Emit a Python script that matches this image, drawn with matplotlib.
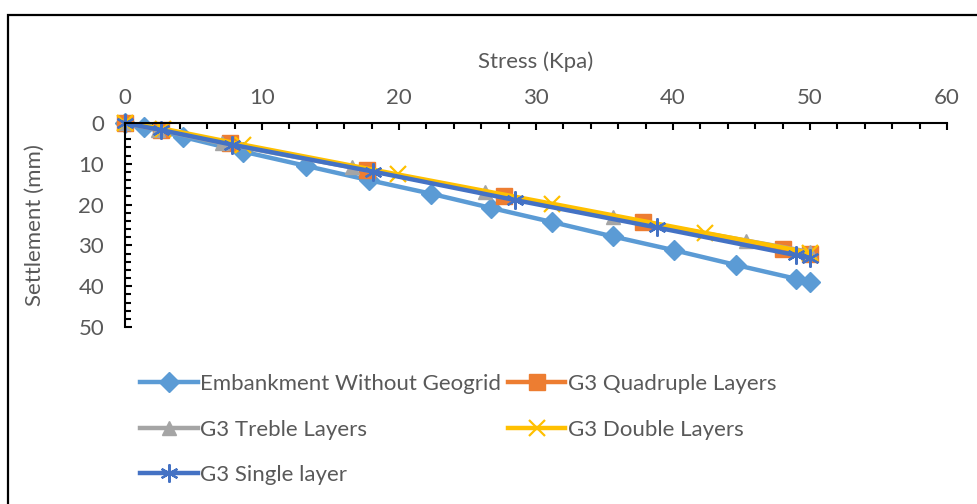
import matplotlib.pyplot as plt
from matplotlib.patches import Rectangle
from matplotlib.ticker import MultipleLocator

# stress (kPa) vs settlement (mm)
emb_x = [0, 1.4, 4.2, 8.6, 13.2, 17.8, 22.3, 26.7, 31.2, 35.6, 40.1, 44.6, 49.0, 50.0]
emb_y = [0, 1.0, 3.4, 7.0, 10.5, 14.0, 17.3, 20.8, 24.3, 27.8, 31.2, 34.8, 38.2, 39.0]
quad_x = [0, 2.6, 7.7, 17.7, 27.7, 37.8, 48.0, 50.0]
quad_y = [0, 1.7, 4.9, 11.5, 17.8, 24.3, 30.8, 32.0]
treb_x = [0, 2.4, 7.1, 16.6, 26.3, 35.6, 45.3, 50.0]
treb_y = [0, 1.6, 5.0, 10.9, 16.9, 23.0, 28.8, 31.6]
dbl_x = [0, 2.8, 8.6, 19.9, 31.2, 42.3, 50.0]
dbl_y = [0, 1.4, 5.3, 12.6, 19.8, 26.9, 31.8]
sgl_x = [0, 2.6, 7.8, 18.1, 28.5, 38.8, 49.0, 50.0]
sgl_y = [0, 1.7, 5.3, 11.9, 18.9, 25.6, 32.4, 33.0]

labels = ['Embankment Without Geogrid', 'G3 Quadruple Layers', 'G3 Treble Layers',
          'G3 Double Layers', 'G3 Single layer']

plt.rcParams['font.family'] = ['Lato', 'DejaVu Sans']
grey = '#595959'
fs = 16

fig = plt.figure(figsize=(9.77, 5.04), dpi=100)
ax = fig.add_axes([125 / 977, 1 - 327 / 504, 822 / 977, 204 / 504])

lw = 3.2
l1, = ax.plot(emb_x, emb_y, color='#5B9BD5', lw=lw, marker='D', ms=10, mec='#5B9BD5')
l2, = ax.plot(quad_x, quad_y, color='#ED7D31', lw=lw, marker='s', ms=11, mec='#ED7D31')
l3, = ax.plot(treb_x, treb_y, color='#A5A5A5', lw=lw, marker='^', ms=10, mec='#A5A5A5')
l4, = ax.plot(dbl_x, dbl_y, color='#FFC000', lw=lw, marker='x', ms=11, mew=1.6)
l5, = ax.plot(sgl_x, sgl_y, color='#4472C4', lw=lw, marker=(6, 2, 0), ms=13, mew=1.6)
for l, lab in zip([l1, l2, l3, l4, l5], labels):
    l.set_label(lab)
    l.set_clip_on(False)

ax.set_xlim(0, 60)
ax.set_ylim(50, 0)
ax.xaxis.set_major_locator(MultipleLocator(10))
ax.xaxis.set_minor_locator(MultipleLocator(2))
ax.yaxis.set_major_locator(MultipleLocator(10))
ax.yaxis.set_minor_locator(MultipleLocator(2))
ax.xaxis.tick_top()
ax.xaxis.set_label_position('top')
for s in ['right', 'bottom']:
    ax.spines[s].set_visible(False)
for s in ['top', 'left']:
    ax.spines[s].set_linewidth(1.5)
ax.tick_params(which='both', direction='in', colors='black', width=1.5,
               labelcolor=grey, labelsize=fs)
ax.tick_params(which='major', length=5)
ax.tick_params(which='minor', length=4)
ax.tick_params(axis='x', which='major', pad=11)
ax.tick_params(axis='y', which='major', pad=15)
ax.set_xlabel('Stress (Kpa)', color=grey, fontsize=fs, labelpad=14)
ax.set_ylabel('Settlement (mm)', color=grey, fontsize=fs, labelpad=24)

handles = [l1, l3, l5, l2, l4]
leg = fig.legend(handles, [h.get_label() for h in handles], ncol=2,
                 loc='upper left', bbox_to_anchor=(140 / 977, 1 - 374 / 504),
                 frameon=False, fontsize=fs, labelcolor=grey, handlelength=2.6,
                 handletextpad=0.1, columnspacing=0.3, labelspacing=1.15,
                 borderaxespad=0, borderpad=0)

fig.patches.append(Rectangle((8 / 977, -0.1), 1.2, 1 - 15 / 504 + 0.1,
                             transform=fig.transFigure, fill=False,
                             edgecolor='black', lw=1.6))

fig.savefig('out.png', dpi=100)
